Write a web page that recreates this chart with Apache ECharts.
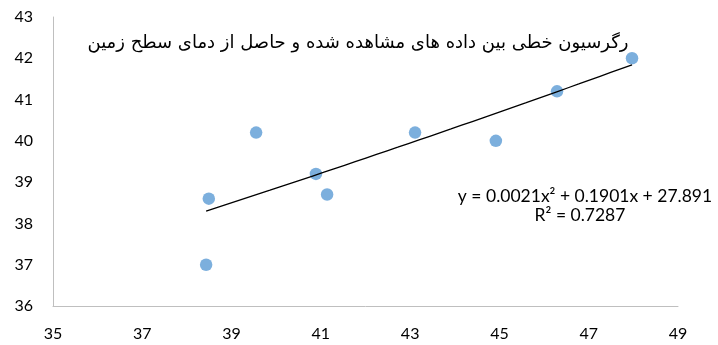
<!DOCTYPE html>
<html>
<head>
<meta charset="utf-8">
<style>
  html, body { margin: 0; padding: 0; background: #ffffff; }
  #chart { width: 718px; height: 345px; }
</style>
<script src="https://cdn.jsdelivr.net/npm/echarts@6/dist/echarts.min.js"></script>
</head>
<body>
<div id="chart"></div>
<script>
// Observed values (x) and land-surface-temperature values (y)
const xValues = [38.43, 38.49, 39.55, 40.89, 41.14, 43.11, 44.92, 46.29, 47.97];
const yValues = [37.0, 38.6, 40.2, 39.2, 38.7, 40.2, 40.0, 41.2, 42.0];

// Quadratic trend coefficients: y = a*x^2 + b*x + c
const trendA = 0.0021;
const trendB = 0.1901;
const trendC = 27.891;

const titleText = 'رگرسیون خطی بین داده های مشاهده شده و حاصل از دمای سطح زمین';
const equationText = 'y = 0.0021x² + 0.1901x + 27.891';
const rSquaredText = 'R² = 0.7287';

const points = xValues.map((x, i) => [x, yValues[i]]);

// Trend curve sampled across the observed x range
const xMin = Math.min(...xValues);
const xMax = Math.max(...xValues);
const trend = [];
const steps = 40;
for (let i = 0; i <= steps; i++) {
  const x = xMin + (xMax - xMin) * i / steps;
  trend.push([x, trendA * x * x + trendB * x + trendC]);
}

const labelFont = 'Lato, "Open Sans", sans-serif';

const chart = echarts.init(document.getElementById('chart'), null, { renderer: 'canvas' });
chart.setOption({
  animation: false,
  backgroundColor: '#ffffff',
  grid: { left: 53, right: 40, top: 17, bottom: 39, containLabel: false },
  xAxis: {
    type: 'value',
    min: 35, max: 49, interval: 2,
    axisLine: { show: true, lineStyle: { color: '#bfbfbf', width: 1 } },
    axisTick: { show: false },
    splitLine: { show: false },
    axisLabel: { color: '#000', fontSize: 16, fontFamily: labelFont, margin: 20 }
  },
  yAxis: {
    type: 'value',
    min: 36, max: 43, interval: 1,
    axisLine: { show: true, lineStyle: { color: '#bfbfbf', width: 1 } },
    axisTick: { show: false },
    splitLine: { show: false },
    axisLabel: { color: '#000', fontSize: 16, fontFamily: labelFont, margin: 20 }
  },
  series: [
    {
      type: 'line',
      data: trend,
      showSymbol: false,
      smooth: false,
      lineStyle: { color: '#000', width: 1.3 },
      z: 3
    },
    {
      type: 'scatter',
      data: points,
      symbolSize: 12.5,
      itemStyle: { color: '#5b9bd5' },
      z: 2
    }
  ],
  graphic: [
    {
      type: 'text',
      x: 358, y: 43,
      style: {
        text: titleText,
        font: '18px "DejaVu Sans", sans-serif',
        fill: '#000',
        align: 'center',
        verticalAlign: 'middle'
      }
    },
    {
      type: 'text',
      x: 585, y: 196,
      style: {
        text: equationText,
        font: '17.5px ' + labelFont,
        fill: '#000',
        align: 'center',
        verticalAlign: 'middle'
      }
    },
    {
      type: 'text',
      x: 580, y: 215,
      style: {
        text: rSquaredText,
        font: '17.5px ' + labelFont,
        fill: '#000',
        align: 'center',
        verticalAlign: 'middle'
      }
    }
  ]
});
</script>
</body>
</html>
